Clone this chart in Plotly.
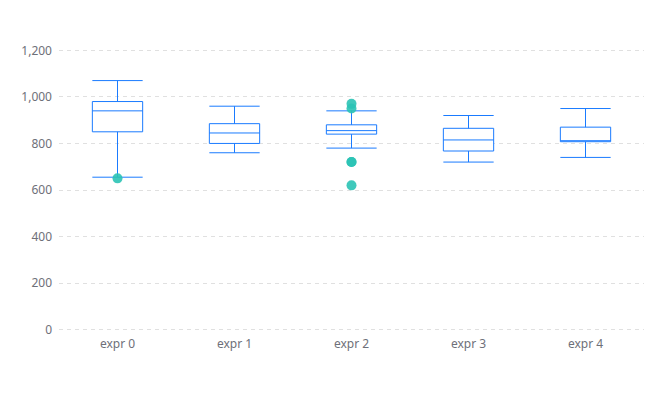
import plotly.graph_objects as go

categories = ["expr 0", "expr 1", "expr 2", "expr 3", "expr 4"]
lower_whisker = [655, 760, 780, 720, 740]
q1_values = [850, 800, 840, 767.5, 807.5]
median_values = [940, 845, 855, 815, 810]
q3_values = [980, 885, 880, 865, 870]
upper_whisker = [1070, 960, 940, 920, 950]
outlier_category = [0, 2, 2, 2, 2, 2]
outlier_values = [650, 620, 720, 720, 950, 970]
y_ticks = [0, 200, 400, 600, 800, 1000, 1200]

xpos = list(range(len(categories)))

fig = go.Figure()
fig.add_trace(go.Box(
    x=xpos,
    q1=q1_values, median=median_values, q3=q3_values,
    lowerfence=lower_whisker, upperfence=upper_whisker,
    boxpoints=False,
    fillcolor="#ffffff",
    line=dict(color="#1a7bff", width=1),
    width=0.43,
    whiskerwidth=1,
    showlegend=False,
    hoverinfo="skip",
))
fig.add_trace(go.Scatter(
    x=outlier_category, y=outlier_values, mode="markers",
    marker=dict(color="#2bc3b5", size=10, opacity=0.9, line=dict(width=0)),
    showlegend=False, hoverinfo="skip",
))

font = dict(family="Noto Sans, DejaVu Sans, sans-serif", size=12, color="#6e7079")
fig.update_layout(
    width=664, height=401,
    margin=dict(l=58.5, r=20, t=47.7, b=69.2),
    paper_bgcolor="#ffffff", plot_bgcolor="#ffffff",
    font=font,
    xaxis=dict(
        range=[-0.5, len(categories) - 0.5],
        tickvals=xpos, ticktext=categories,
        showgrid=False, zeroline=False, showline=False,
        ticks="", tickfont=font, ticklabelstandoff=3,
    ),
    yaxis=dict(
        range=[-10, 1210],
        tickvals=y_ticks, tickformat=",d",
        showgrid=True, gridcolor="#e0e0e0", griddash="4px,4px", gridwidth=1,
        zeroline=False, showline=False, ticks="", tickfont=font,
        ticklabelstandoff=6,
    ),
)
fig.write_html("out.html")
